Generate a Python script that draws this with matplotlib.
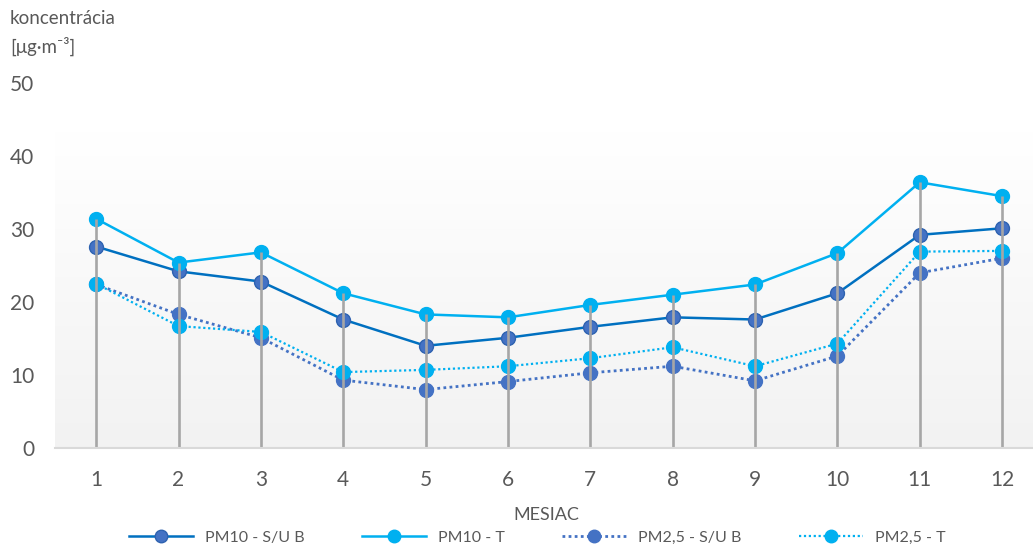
import numpy as np
import matplotlib.pyplot as plt

# months and monthly mean concentrations
months = [1, 2, 3, 4, 5, 6, 7, 8, 9, 10, 11, 12]
pm10_sub = [27.6, 24.2, 22.8, 17.6, 14.0, 15.1, 16.6, 17.9, 17.6, 21.2, 29.2, 30.1]
pm10_t = [31.4, 25.4, 26.8, 21.2, 18.3, 17.9, 19.6, 21.0, 22.4, 26.7, 36.4, 34.5]
pm25_sub = [22.4, 18.3, 15.1, 9.3, 8.0, 9.1, 10.3, 11.2, 9.2, 12.6, 24.0, 26.0]
pm25_t = [22.5, 16.7, 15.9, 10.4, 10.7, 11.2, 12.3, 13.8, 11.2, 14.3, 26.9, 27.0]

labels = ['PM10 - S/U B', 'PM10 - T', 'PM2,5 - S/U B', 'PM2,5 - T']
y_ticks = [0, 10, 20, 30, 40, 50]

plt.rcParams['font.family'] = ['Lato', 'DejaVu Sans']
txt = '#595959'

fig = plt.figure(figsize=(10.33, 5.47), dpi=100)
ax = fig.add_axes([55 / 1033, 99 / 547, 978 / 1033, 365 / 547])
ax.set_xlim(0.5, 12.375)
ax.set_ylim(0, 50)

# gradient plot area background
grad = np.linspace(0, 1, 256).reshape(-1, 1)
c_top = np.array([1.0, 1.0, 1.0])
c_bot = np.array([0xf2, 0xf2, 0xf2]) / 255
img = c_top + (c_bot - c_top) * grad[..., None]
ax.imshow(img, extent=[0.5, 12.375, 0, 43.3], aspect='auto', zorder=0)

ax.plot(months, pm10_sub, color='#0070c0', lw=1.8, marker='o', ms=10,
        mfc='#4472c4', mec='#2e62b0', mew=1, label=labels[0], zorder=3)
ax.plot(months, pm10_t, color='#00b0f0', lw=1.8, marker='o', ms=10,
        mfc='#00b0f0', mec='#00b0f0', label=labels[1], zorder=3)
ax.plot(months, pm25_sub, color='#4472c4', lw=2, ls=(0, (1, 1.2)), marker='o', ms=10,
        mfc='#4472c4', mec='#4472c4', label=labels[2], zorder=3)
ax.plot(months, pm25_t, color='#00b0f0', lw=1.6, ls=(0, (1, 1.2)), marker='o', ms=10,
        mfc='#00b0f0', mec='#00b0f0', label=labels[3], zorder=3)

# drop lines from the top value down to zero
tops = np.max([pm10_sub, pm10_t, pm25_sub, pm25_t], axis=0)
ax.vlines(months, 0, tops, color='#a6a6a6', lw=1.9, zorder=4)

for s in ['top', 'right', 'left']:
    ax.spines[s].set_visible(False)
ax.spines['bottom'].set_color('#d9d9d9')
ax.spines['bottom'].set_linewidth(1.5)
ax.spines['bottom'].set_zorder(5)

ax.set_xticks(months)
ax.set_yticks(y_ticks)
ax.tick_params(axis='both', length=0, labelsize=15, labelcolor=txt)
ax.tick_params(axis='y', pad=15)
ax.tick_params(axis='x', pad=16)

fig.text(10 / 1033, 1 - 18 / 547, 'koncentrácia', fontsize=13.5, color=txt, va='center')
fig.text(10 / 1033, 1 - 46 / 547, '[μg·m⁻³]', fontsize=13.5, color=txt, va='center')
fig.text(546 / 1033, 1 - 515 / 547, 'MESIAC', fontsize=13, color=txt, ha='center', va='center')

leg = fig.legend(loc='center', bbox_to_anchor=(537 / 1033, 1 - 538 / 547), ncol=4,
                 frameon=False, fontsize=11.5, handlelength=4.0, handletextpad=0.75,
                 columnspacing=3.6, markerscale=0.9)
for t in leg.get_texts():
    t.set_color(txt)

fig.savefig('out.png', dpi=100)
